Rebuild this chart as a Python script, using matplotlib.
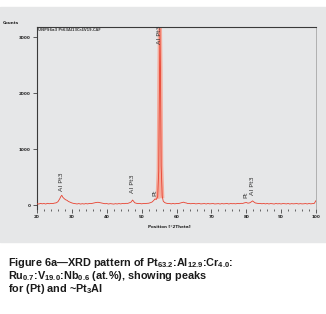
import matplotlib
matplotlib.use("Agg")
import matplotlib.pyplot as plt
from matplotlib.patches import Rectangle

# XRD pattern (Co K-alpha)
two_theta = [20.0, 20.5, 21.0, 21.5, 22.0, 22.5, 23.0, 23.5, 24.0, 24.5,
             25.0, 25.5, 26.0, 26.5, 26.8, 27.1, 27.4, 27.8, 28.2, 28.6,
             29.0, 29.5, 30.0, 30.5, 31.0, 31.5, 32.0, 32.5, 33.0, 33.5,
             34.0, 34.5, 35.0, 35.5, 36.0, 36.5, 37.0, 37.5, 38.0, 38.5,
             39.0, 39.5, 40.0, 40.5, 41.0, 41.5, 42.0, 42.5, 43.0, 43.5,
             44.0, 44.5, 45.0, 45.5, 46.0, 46.5, 47.0, 47.4, 47.7, 48.0,
             48.5, 49.0, 49.5, 50.0, 50.5, 51.0, 51.5, 52.0, 52.5, 53.0,
             53.5, 53.8, 54.2, 54.6, 54.9, 55.1, 55.25, 55.4, 55.6, 55.9,
             56.2, 56.6, 57.0, 57.5, 58.0, 58.5, 59.0, 59.5, 60.0, 60.5,
             61.0, 61.5, 62.0, 62.4, 62.8, 63.2, 63.6, 64.0, 64.5, 65.0,
             65.5, 66.0, 66.5, 67.0, 67.5, 68.0, 68.5, 69.0, 69.5, 70.0,
             70.5, 71.0, 71.5, 72.0, 72.5, 73.0, 73.5, 74.0, 74.5, 75.0,
             75.5, 76.0, 76.5, 77.0, 77.5, 78.0, 78.5, 79.0, 79.5, 80.0,
             80.5, 81.0, 81.5, 81.8, 82.2, 82.6, 83.0, 83.5, 84.0, 84.5,
             85.0, 85.5, 86.0, 86.5, 87.0, 87.5, 88.0, 88.5, 89.0, 89.5,
             90.0, 90.5, 91.0, 91.5, 92.0, 92.5, 93.0, 93.5, 94.0, 94.5,
             95.0, 95.5, 96.0, 96.5, 97.0, 97.5, 98.0, 98.5, 99.0, 99.5,
             99.8, 100.0]
counts = [25, 18, 30, 22, 28, 19, 31, 24, 29, 27,
          35, 40, 60, 110, 150, 175, 140, 115, 95, 85,
          65, 52, 38, 30, 26, 20, 27, 18, 25, 19,
          27, 21, 28, 26, 33, 40, 47, 50, 44, 36,
          30, 24, 27, 19, 26, 21, 18, 25, 20, 27,
          21, 28, 25, 31, 30, 40, 55, 90, 68, 42,
          32, 26, 29, 22, 28, 26, 31, 33, 42, 55,
          85, 110, 100, 150, 600, 2200, 3150, 2400, 700, 160,
          70, 45, 35, 28, 29, 21, 29, 22, 28, 26,
          34, 40, 52, 42, 38, 28, 30, 24, 26, 29,
          22, 25, 28, 21, 24, 27, 20, 28, 22, 25,
          27, 20, 24, 26, 19, 27, 22, 25, 28, 20,
          27, 24, 26, 22, 30, 25, 31, 30, 40, 46,
          34, 40, 60, 75, 55, 38, 34, 28, 30, 23,
          29, 21, 28, 20, 27, 24, 19, 28, 22, 26,
          20, 27, 25, 21, 28, 19, 26, 22, 24, 27,
          20, 26, 21, 23, 27, 20, 28, 22, 27, 30,
          60, 80]

# index range of the main reflection (drawn with a pale halo)
main_start, main_end = 73, 80

# peak labels: (position, label bottom in counts, text)
peak_pos = [27.1, 47.4, 53.8, 55.25, 80.0, 81.8]
peak_lab_y = [260, 210, 170, 2870, 120, 175]
peak_text = ["Al Pt3", "Al Pt3", "Pt", "Al Pt3", "Pt", "Al Pt3"]

x_ticks = [20, 30, 40, 50, 60, 70, 80, 90, 100]
y_ticks = [0, 1000, 2000, 3000]

plt.rcParams["mathtext.fontset"] = "custom"
plt.rcParams["mathtext.rm"] = "Liberation Sans:bold"
plt.rcParams["mathtext.default"] = "rm"

W, H = 326, 314
fig = plt.figure(figsize=(W / 100, H / 100), dpi=100)
fig.patch.set_facecolor("white")
fig.patches.append(Rectangle((0, 1 - 242 / H), 1, (242 - 7) / H,
                             transform=fig.transFigure, color="#e6e7e8",
                             zorder=-5))

ax = fig.add_axes([37 / W, 1 - 209 / H, (316 - 37) / W, (209 - 27) / H])
ax.set_facecolor("#e6e7e8")
ax.plot(two_theta[main_start:main_end], counts[main_start:main_end],
        color="#f4ab9c", lw=3.0, zorder=2)
ax.plot(two_theta, counts, color="#e8412f", lw=0.6, zorder=3)
ax.set_xlim(20, 100)
ax.set_ylim(-70, 3180)

for s in ["top", "left"]:
    ax.spines[s].set_color("#3a3a3a")
    ax.spines[s].set_linewidth(0.8)
ax.spines["right"].set_color("#9a9a9a")
ax.spines["right"].set_linewidth(0.5)
ax.spines["bottom"].set_visible(False)

ax.set_xticks(x_ticks)
ax.set_xticks(range(20, 101, 2), minor=True)
ax.set_yticks(y_ticks)
ax.tick_params(axis="both", labelsize=3, width=0.5, length=3, pad=1.5,
               colors="#222222")
ax.tick_params(axis="x", which="minor", length=1.5, width=0.4)
for lab in ax.get_xticklabels() + ax.get_yticklabels():
    lab.set_fontweight("bold")

for p, y, t in zip(peak_pos, peak_lab_y, peak_text):
    ax.text(p, y, t, rotation=90, ha="center", va="bottom", fontsize=4.6,
            color="#333333")

ax.text(0.005, 0.995, "UNPS6a3 Pt63Al13Cr4V19.CAF", transform=ax.transAxes,
        ha="left", va="top", fontsize=2.6, fontweight="bold", color="#444444")

fig.text(3 / W, 1 - 23 / H, "Counts", fontsize=3, fontweight="bold",
         ha="left", va="center", color="#222222")
fig.text(169 / W, 1 - 227 / H, "Position [°2Theta]", fontsize=3,
         fontweight="bold", ha="center", va="center", color="#222222")

caption = [r"Figure 6a—XRD pattern of Pt$_{63.2}$:Al$_{12.9}$:Cr$_{4.0}$:",
           r"Ru$_{0.7}$:V$_{19.0}$:Nb$_{0.6}$ (at.%), showing peaks",
           r"for (Pt) and ~Pt$_3$Al"]
for i, line in enumerate(caption):
    fig.text(8 / W, 1 - (263 + 13 * i) / H, line, fontsize=7.8,
             family="Liberation Sans", fontweight="bold", ha="left",
             va="center", color="#1a1a1a")

fig.savefig("out.png", dpi=100)
